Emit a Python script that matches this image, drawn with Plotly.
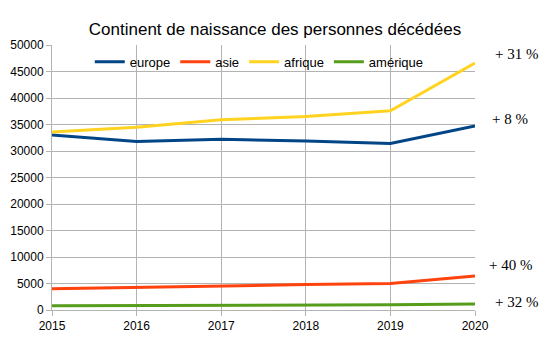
import plotly.graph_objects as go

years = [2015, 2016, 2017, 2018, 2019, 2020]
europe = [33000, 31800, 32200, 31900, 31400, 34700]
asie = [4000, 4300, 4600, 4800, 5000, 6400]
afrique = [33600, 34500, 35900, 36500, 37600, 46600]
amerique = [780, 800, 850, 900, 1000, 1150]
series_names = ["europe", "asie", "afrique", "amérique"]
series_values = [europe, asie, afrique, amerique]
colors = ["#004586", "#ff420e", "#ffd320", "#579d1c"]
pct_labels = ["+ 8 %", "+ 40 %", "+ 31 %", "+ 32 %"]
pct_y = [36000, 8500, 48300, 1500]
pct_dx = [35, 35, 41, 41]
y_ticks = list(range(0, 50001, 5000))

fig = go.Figure()
for name, vals, c in zip(series_names, series_values, colors):
    fig.add_trace(go.Scatter(x=years, y=vals, mode="lines", name=name,
                             line=dict(color=c, width=3)))

for lab, yv, dx in zip(pct_labels, pct_y, pct_dx):
    fig.add_annotation(x=2020, y=yv, text=lab, showarrow=False, xref="x", yref="y",
                       xshift=dx, font=dict(family="Liberation Serif", size=15, color="#000"))

fig.update_layout(
    width=550, height=341,
    margin=dict(l=52, r=75, t=45, b=31),
    paper_bgcolor="white", plot_bgcolor="white",
    font=dict(family="Liberation Sans", size=12, color="#000"),
    title=dict(text="Continent de naissance des personnes décédées", x=0.5, xref="container",
               xanchor="center", y=0.915, yanchor="middle", font=dict(size=17, color="#000")),
    legend=dict(orientation="h", x=0.49, xanchor="center", y=0.937, yanchor="middle",
                bgcolor="rgba(0,0,0,0)", font=dict(size=13), itemwidth=30,
                tracegroupgap=0),
    showlegend=True,
)
fig.update_xaxes(range=[2015, 2020], tickvals=years, ticktext=[str(y) for y in years],
                 showgrid=True, gridcolor="#b3b3b3", gridwidth=1,
                 showline=True, linecolor="#b3b3b3", mirror=False,
                 ticks="outside", ticklen=5, tickcolor="#b3b3b3", zeroline=False,
                 tickfont=dict(size=12), automargin=False)
fig.update_yaxes(range=[0, 50000], tickvals=y_ticks, ticktext=[str(v) for v in y_ticks],
                 showgrid=True, gridcolor="#b3b3b3", gridwidth=1,
                 showline=True, linecolor="#b3b3b3",
                 ticks="outside", ticklen=5, tickcolor="#b3b3b3", zeroline=False,
                 tickfont=dict(size=12), automargin=False)
fig.write_html("out.html")
